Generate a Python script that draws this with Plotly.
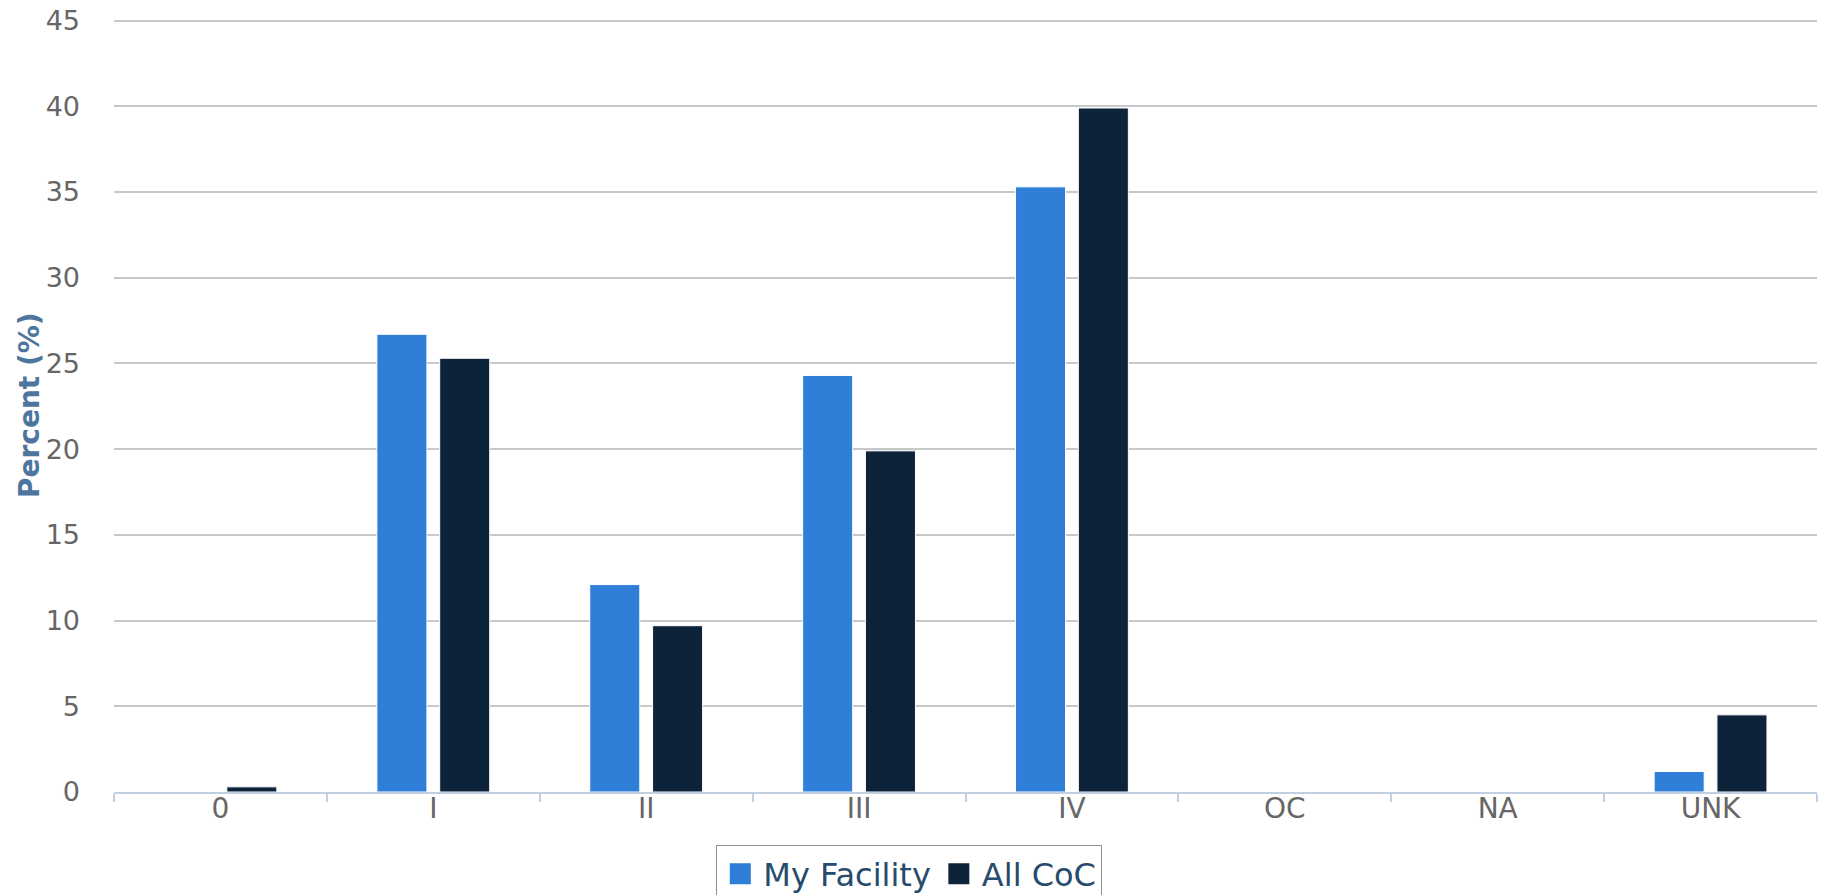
import plotly.graph_objects as go

categories = ["0", "I", "II", "III", "IV", "OC", "NA", "UNK"]
my_facility = [0, 26.7, 12.1, 24.3, 35.3, 0, 0, 1.2]
all_coc = [0.3, 25.3, 9.7, 19.9, 39.9, 0, 0, 4.5]
y_ticks = [0, 5, 10, 15, 20, 25, 30, 35, 40, 45]
series_names = ["My Facility", "All CoC"]
series_colors = ["#2f7ed8", "#0d233a"]

FONT = "DejaVu Sans"
W, H = 1826, 895
L, R, T, B = 114, 9, 18.4, 103

fig = go.Figure()
for name, vals, col, off in zip(series_names, [my_facility, all_coc], series_colors, [-0.265, 0.03]):
    fig.add_trace(go.Bar(
        x=categories, y=vals, name=name, showlegend=False,
        marker=dict(color=col, line=dict(color="#ffffff", width=1)),
        width=0.235, offset=off,
    ))
# legend entries with larger square swatches
for name, col in zip(series_names, series_colors):
    fig.add_trace(go.Scatter(
        x=[None], y=[None], mode="markers", name=name,
        marker=dict(symbol="square", size=16, color=col, line=dict(color=col, width=5)),
    ))

fig.update_layout(
    width=W, height=H,
    margin=dict(l=L, r=R, t=T, b=B, pad=0, autoexpand=False),
    paper_bgcolor="white", plot_bgcolor="white",
    barmode="group",
    showlegend=True,
    font=dict(family=FONT, color="#666666"),
    legend=dict(
        orientation="h", x=0.467, xanchor="center", y=-0.069, yanchor="top",
        bordercolor="#909090", borderwidth=1,
        font=dict(family=FONT, size=32, color="#274b6d"),
        traceorder="normal", itemwidth=36,
    ),
    xaxis=dict(
        type="category", range=[-0.5, 7.5],
        showline=True, linecolor="#c0d0e0", linewidth=2,
        ticks="outside", tickson="boundaries", ticklen=8, tickcolor="#c0d0e0", tickwidth=2,
        tickfont=dict(family=FONT, size=28, color="#666666"),
        showgrid=False, zeroline=False,
        ticklabelstandoff=-10, automargin=False,
    ),
    yaxis=dict(
        range=[0, 45.15], tickvals=y_ticks,
        showgrid=True, gridcolor="#c8c8c8", gridwidth=1.5,
        zeroline=False, showline=False, ticks="",
        tickfont=dict(family=FONT, size=27, color="#666666"),
        ticklabelstandoff=33, ticklabeloverflow="allow",
        automargin=False,
    ),
    annotations=[dict(
        text="<b>Percent (%)</b>", textangle=-90,
        xref="paper", yref="paper", x=0, y=0.5, xanchor="center", yanchor="middle",
        xshift=-85, showarrow=False,
        font=dict(family=FONT, size=28, color="#4d759e"),
    )],
)

fig.write_html(
    "out.html",
    config={"displayModeBar": False},
    post_script="document.body.style.margin='0';document.body.style.overflow='hidden';",
)
